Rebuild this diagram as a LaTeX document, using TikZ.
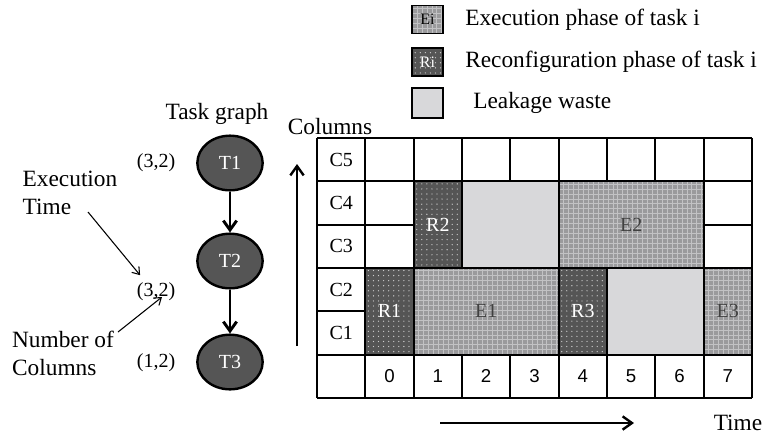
\documentclass[tikz,border=0pt]{standalone}
\usepackage{fontspec}
\setmainfont{Liberation Serif}
\newfontfamily\numfont{Liberation Sans}
\usetikzlibrary{arrows.meta,positioning,calc,shapes.geometric}
\definecolor{Dark}{HTML}{555555}
\definecolor{Mid}{HTML}{9A9A9C}
\definecolor{Light}{HTML}{C2C2C4}
\definecolor{Leak}{HTML}{D8D8DA}

\begin{document}
\begin{tikzpicture}[x=0.75pt,y=-0.75pt,>={Straight Barb[length=7pt,width=10pt]},
    big/.style={font=\fontsize{17.5}{21}\selectfont},
    small/.style={font=\fontsize{15}{18}\selectfont},
    task/.style={ellipse,draw=black,line width=1.8pt,fill=Dark,text=white,
      minimum width=49pt,minimum height=41pt,small},
    ebox/.style={draw=black,line width=1.4pt,fill=Mid,text=black!75,small,
      path picture={\foreach \k in {1,...,32}{
        \draw[Light,line width=0.6pt] ([xshift=\k*3.7pt]path picture bounding box.south west)--++(0,80pt);
        \draw[Light,line width=0.6pt] ([yshift=\k*3.7pt]path picture bounding box.south west)--++(120pt,0);}}},
    rbox/.style={draw=black,line width=1.4pt,fill=Dark,text=white,small,
      path picture={\foreach \a in {1,...,9}\foreach \b in {1,...,17}
        \fill[white!70!Dark] ([shift={(\a*3.8pt-1.5pt,\b*3.8pt-1.5pt)}]path picture bounding box.south west) circle (0.5pt);}},
    lbox/.style={draw=black,line width=1.4pt,fill=Leak},
    gridline/.style={line width=1.5pt}]
    \useasboundingbox (0,0) rectangle (763,436);

    % legend
    \node[ebox,minimum width=23pt,minimum height=21pt,font=\fontsize{12}{14}\selectfont,text=black] (le) at (427.5,19.5) {Ei};
    \node[rbox,minimum width=23pt,minimum height=21pt,font=\fontsize{12}{14}\selectfont] (lr) at (427.5,62) {Ri};
    \node[lbox,minimum width=23pt,minimum height=23pt] (ll) at (427.5,103) {};
    \node[big,anchor=west,inner sep=0pt] (lte) at (465,20) {Execution phase of task i};
    \node[big,anchor=west,inner sep=0pt] (ltr) at (465,62) {Reconfiguration phase of task i};
    \node[big,anchor=west,inner sep=0pt] (ltl) at (473,103) {Leakage waste};

    % task graph
    \node[big] (tg) at (217,114) {Task graph};
    \node[task] (t1) at (230,163) {T1};
    \node[task] (t2) at (230,261) {T2};
    \node[task] (t3) at (230,362) {T3};
    \foreach \u/\v in {t1/t2,t2/t3}\draw[->,line width=2.2pt] (\u)--(\v);
    \node[small] (p1) at (156,163) {(3,2)};
    \node[small] (p2) at (156,292) {(3,2)};
    \node[small] (p3) at (156,363) {(1,2)};
    \node[big,align=left] (exe) at (70,193) {Execution\\Time};
    \node[big,align=left] (ncol) at (63,353) {Number of\\Columns};
    \coordinate (ea) at (88,212);
    \coordinate (na) at (118,332);
    \draw[-{Straight Barb[length=5pt,width=7pt]},line width=0.8pt] (ea)--([shift={(8,-3)}]p2.north west);
    \draw[-{Straight Barb[length=5pt,width=7pt]},line width=0.8pt] (na)--([shift={(6,5)}]p2.center);

    % schedule grid
    \foreach \i in {0,...,9}\draw[gridline] (317+48.33*\i,138)--(317+48.33*\i,398);
    \foreach \j in {0,...,6}\draw[gridline] (317,138+43.33*\j)--(752,138+43.33*\j);
    \foreach \r [count=\i from 0] in {C5,C4,C3,C2,C1}
      \node[small] (c\r) at (341.17,159.67+43.33*\i) {\r};
    \foreach \t in {0,...,7}
      \node[font=\numfont\fontsize{14}{16}\selectfont] (n\t) at (389.5+48.33*\t,376.33) {\t};

    % phases
    \node[rbox,minimum width=36.25pt,minimum height=65pt] (r1) at (389.5,311.33) {R1};
    \node[ebox,minimum width=108.75pt,minimum height=65pt] (e1) at (486.17,311.33) {E1};
    \node[rbox,minimum width=36.25pt,minimum height=65pt] (r3) at (582.83,311.33) {R3};
    \node[lbox,minimum width=72.5pt,minimum height=65pt] (w1) at (655.33,311.33) {};
    \node[ebox,minimum width=36.25pt,minimum height=65pt] (e3) at (727.83,311.33) {E3};
    \node[rbox,minimum width=36.25pt,minimum height=65pt] (r2) at (437.83,224.67) {R2};
    \node[lbox,minimum width=72.5pt,minimum height=65pt] (w2) at (510.33,224.67) {};
    \node[ebox,minimum width=108.75pt,minimum height=65pt] (e2) at (631.17,224.67) {E2};

    % axes
    \node[big] (cl) at (330,127) {Columns};
    \node[big] (tm) at (738,423) {Time};
    \coordinate (ca) at (297,346);
    \coordinate (cb) at (297,164);
    \coordinate (ta) at (440,423);
    \coordinate (tb) at (634,423);
    \draw[->,line width=1.8pt] (ca)--(cb);
    \draw[->,line width=1.8pt] (ta)--(tb);
  \end{tikzpicture}
\end{document}
